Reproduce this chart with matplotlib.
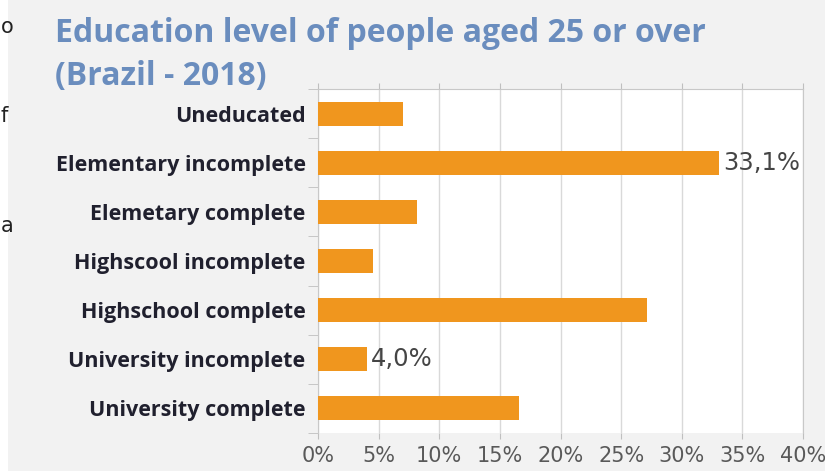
import matplotlib
matplotlib.use('Agg')
import matplotlib.pyplot as plt
from matplotlib.patches import Rectangle
from matplotlib.ticker import FixedLocator

# data
categories = ['Uneducated', 'Elementary incomplete', 'Elemetary complete',
              'Highscool incomplete', 'Highschool complete',
              'University incomplete', 'University complete']
values = [7.0, 33.1, 8.2, 4.5, 27.1, 4.0, 16.6]
shown_labels = {1: '33,1%', 5: '4,0%'}
x_ticks = [0, 5, 10, 15, 20, 25, 30, 35, 40]
x_tick_labels = [f'{t}%' for t in x_ticks]

title = 'Education level of people aged 25 or over\n(Brazil - 2018)'

BAR = '#F0961E'
GRID = '#D9D9D9'
PANEL = '#F2F2F2'

fig = plt.figure(figsize=(8.25, 4.71), dpi=100, facecolor='white')

# light gray panel behind the chart (white strip on the far left)
fig.patches.append(Rectangle((8 / 825, 0), 1, 1, transform=fig.transFigure,
                             facecolor=PANEL, edgecolor='none', zorder=-5))

# stray characters at the left edge
for ch, y in [('o', 27), ('f', 116), ('a', 226)]:
    fig.text(0.0005, 1 - y / 471, ch, fontsize=15, color='#222222',
             ha='left', va='center', family='DejaVu Sans')

ax = fig.add_axes([318 / 825, 1 - 433 / 471, 485 / 825, 344 / 471])
ax.set_facecolor('white')

y = list(range(len(categories)))
ax.barh(y, values, height=0.49, color=BAR, zorder=3)

for i, txt in shown_labels.items():
    ax.text(values[i] + 0.35, i, txt, va='center', ha='left',
            fontsize=17.5, color='#454545', family='DejaVu Sans', zorder=4)

ax.set_xlim(0, 40)
ax.set_ylim(len(categories) - 0.5, -0.5)

ax.set_xticks(x_ticks)
ax.set_xticklabels(x_tick_labels, fontsize=15, color='#595959',
                   family='DejaVu Sans')
ax.tick_params(axis='x', which='major', direction='out', length=4,
               color='#BFBFBF', top=True, bottom=True, pad=5)
ax.grid(axis='x', color=GRID, linewidth=1, zorder=0)

ax.set_yticks(y)
ax.set_yticklabels(categories, fontsize=15.5, fontweight='bold',
                   color='#20202E', family='Open Sans')
ax.tick_params(axis='y', which='major', length=0, pad=9)
ax.yaxis.set_minor_locator(FixedLocator([i + 0.5 for i in range(-1, len(categories))]))
ax.tick_params(axis='y', which='minor', direction='out', length=7,
               color='#BFBFBF')

for side in ['top', 'right', 'left']:
    ax.spines[side].set_color('#C8C8C8')
ax.spines['bottom'].set_visible(False)

fig.text(55 / 825, 1 - 17 / 471, title, fontsize=23, fontweight='bold',
         color='#6A8DBE', family='Open Sans', ha='left', va='top',
         linespacing=1.42)

fig.savefig('out.png', dpi=100, facecolor='white')
